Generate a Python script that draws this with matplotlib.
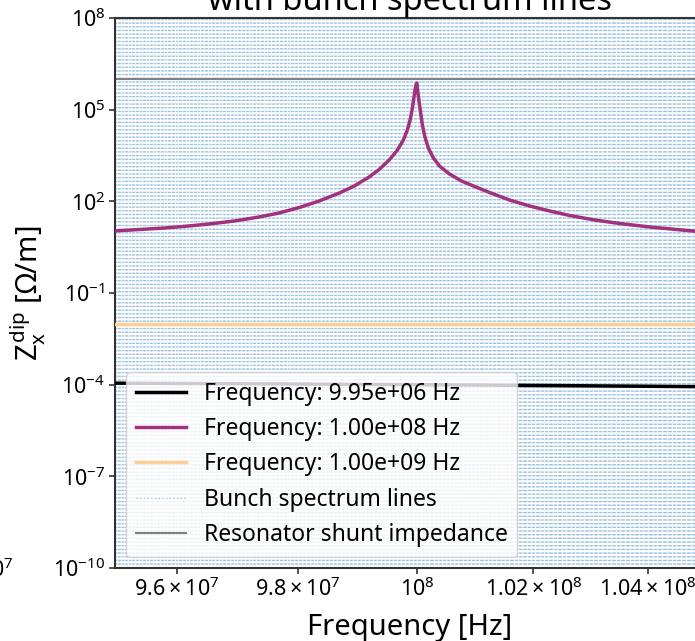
import numpy as np
import matplotlib
matplotlib.use("Agg")
import matplotlib.pyplot as plt
from matplotlib import cm
from matplotlib.ticker import FixedLocator, NullLocator

plt.rcParams['font.family'] = ['Noto Sans', 'DejaVu Sans']
plt.rcParams['mathtext.fontset'] = 'custom'
plt.rcParams['mathtext.rm'] = 'Noto Sans'
plt.rcParams['mathtext.it'] = 'Noto Sans'
plt.rcParams['mathtext.bf'] = 'Noto Sans:bold'

# resonator impedance, for three resonant frequencies
labels = ["Frequency: 9.95e+06 Hz", "Frequency: 1.00e+08 Hz", "Frequency: 1.00e+09 Hz"]

f_low = [9.5e7, 9.75e7, 1.0e8, 1.025e8, 1.05e8]
z_low = [1.12e-4, 1.06e-4, 1.0e-4, 9.3e-5, 8.6e-5]

f_mid = [9.497e7, 9.538e7, 9.579e7, 9.619e7, 9.652e7, 9.694e7, 9.735e7, 9.768e7,
         9.802e7, 9.835e7, 9.869e7, 9.894e7, 9.919e7, 9.936e7, 9.953e7, 9.967e7,
         9.977e7, 9.9838e7, 9.9889e7, 9.9923e7, 9.9949e7, 9.9971e7, 9.9988e7,
         1.0e8,
         1.00012e8, 1.00034e8, 1.0006e8, 1.00094e8, 1.00137e8, 1.00196e8, 1.00282e8,
         1.00385e8, 1.00556e8, 1.00762e8, 1.01003e8, 1.01244e8, 1.0159e8, 1.01937e8,
         1.02286e8, 1.02635e8, 1.03074e8, 1.03514e8, 1.04045e8, 1.04579e8, 1.05008e8]
z_mid = [10.66, 11.93, 13.36, 15.53, 18.05, 22.63, 30.59, 41.34,
         62.57, 102.1, 186.6, 316.2, 623.0, 1096.0, 2243.0, 4764.0,
         1.012e4, 2.151e4, 4.925e4, 1.128e5, 2.396e5, 4.722e5, 6.88e5,
         7.4e5,
         4.38e5, 2.061e5, 9.0e4, 3.134e4, 1.269e4, 5540.0, 2609.0,
         1427.0, 781.0, 461.0, 297.6, 193.8, 110.1, 70.06,
         48.07, 34.25, 24.41, 18.74, 14.40, 11.66, 9.88]

f_high = [9.5e7, 1.0e8, 1.05e8]
z_high = [1.0e-2, 1.0e-2, 1.0e-2]

f_rev = 22490.0
spectrum_lines = np.arange(int(9.5e7 / f_rev), int(1.05e8 / f_rev) + 1) * f_rev
shunt_impedance = 1e6

xticks = [9.6e7, 9.8e7, 1e8, 1.02e8, 1.04e8]
xticklabels = [r"$9.6\times10^{7}$", r"$9.8\times10^{7}$", r"$10^{8}$",
               r"$1.02\times10^{8}$", r"$1.04\times10^{8}$"]
yticks = [1e-10, 1e-7, 1e-4, 1e-1, 1e2, 1e5, 1e8]

colors = [cm.magma(v) for v in np.linspace(0, 0.9, 3)]

fig = plt.figure(figsize=(6.95, 6.41), dpi=100)
ax = fig.add_axes([115 / 695, 73 / 641, 589 / 695, 550 / 641])

for fx, zx, c, lab in zip([f_low, f_mid, f_high], [z_low, z_mid, z_high], colors, labels):
    ax.plot(fx, zx, color=c, lw=2.5, label=lab, zorder=3)

ax.vlines(spectrum_lines, 1e-10, 1e8, colors='C0', alpha=0.35, lw=1,
          linestyles=':', label='Bunch spectrum lines', zorder=1)
ax.axhline(shunt_impedance, color='gray', lw=1.5, label='Resonator shunt impedance', zorder=2)

ax.set_xscale('log')
ax.set_yscale('log')
ax.set_xlim(9.5e7, 1.05e8)
ax.set_ylim(1e-10, 1e8)

ax.xaxis.set_major_locator(FixedLocator(xticks))
ax.xaxis.set_minor_locator(NullLocator())
ax.set_xticklabels(xticklabels)
ax.yaxis.set_major_locator(FixedLocator(yticks))
ax.yaxis.set_minor_locator(NullLocator())
ax.tick_params(labelsize=15.5, length=4.5, width=1.2, pad=2.5, color='#333333')
for s in ax.spines.values():
    s.set_color('#333333')
    s.set_linewidth(1.5)

ax.set_xlabel('Frequency [Hz]', fontsize=21)
ax.set_ylabel(r'$Z_x^{\mathrm{dip}}$ [Ω/m]', fontsize=21)
ax.xaxis.set_label_coords(0.5, -0.082)
ax.yaxis.set_label_coords(-0.113, 0.5)
ax.set_title('with bunch spectrum lines', fontsize=23.5, pad=6)

ax.legend(loc='lower left', fontsize=16.5, handlelength=2.2, handletextpad=0.8)

fig.text(14 / 695, 1 - 570 / 641, r'$10^{7}$', fontsize=15.5, ha='right', va='center')

fig.savefig('out.png', dpi=100)
